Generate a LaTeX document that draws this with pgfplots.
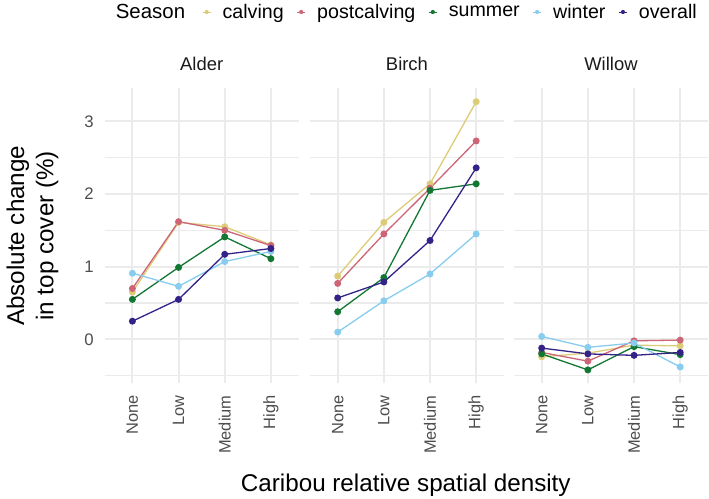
\documentclass[border=0pt]{standalone}
\usepackage{pgfplots}
\pgfplotsset{compat=1.18}
\usepackage{pgfplotstable}
\usepackage{fontspec}
\setmainfont{Liberation Sans}
\definecolor{cCalv}{HTML}{DDCC77}
\definecolor{cPost}{HTML}{CC6677}
\definecolor{cSumm}{HTML}{117733}
\definecolor{cWint}{HTML}{88CCEE}
\definecolor{cOver}{HTML}{332288}
\definecolor{grid92}{HTML}{EBEBEB}
\definecolor{grey30}{HTML}{4D4D4D}
\definecolor{grey10}{HTML}{1A1A1A}

\pgfplotstableread{
x calving postcalving summer winter overall
0 0.65 0.70 0.55 0.91 0.25
1 1.61 1.62 0.99 0.73 0.55
2 1.55 1.50 1.41 1.07 1.17
3 1.30 1.29 1.11 1.21 1.25
}\alder
\pgfplotstableread{
x calving postcalving summer winter overall
0 0.87 0.77 0.38 0.10 0.57
1 1.61 1.45 0.85 0.53 0.79
2 2.14 2.08 2.05 0.90 1.36
3 3.27 2.73 2.14 1.45 2.36
}\birch
\pgfplotstableread{
x calving postcalving summer winter overall
0 -0.24 -0.18 -0.20 0.04 -0.12
1 -0.19 -0.30 -0.42 -0.11 -0.20
2 -0.08 -0.02 -0.10 -0.05 -0.22
3 -0.09 -0.01 -0.21 -0.38 -0.18
}\willow

\pgfplotsset{
  panel/.style={
    scale only axis, width=193.9bp, height=295bp,
    anchor=south west,
    xmin=-0.6, xmax=3.6, ymin=-0.6045, ymax=3.4545,
    axis line style={draw=none}, tick style={draw=none},
    major tick length=0pt,
    xtick={0,1,2,3}, xticklabels={None,Low,Medium,High},
    ytick={0,1,2,3}, minor ytick={-0.5,0.5,1.5,2.5},
    grid=both,
    major grid style={color=grid92, line width=2bp},
    minor grid style={color=grid92, line width=1.1bp},
    /pgf/number format/assume math mode=true,
    xticklabel style={rotate=90, anchor=east, inner sep=0pt,
      font=\fontsize{16.5}{19}\selectfont, text=grey30},
    xticklabel shift=12bp,
    yticklabel style={anchor=east, inner sep=0pt,
      font=\fontsize{16.8}{19}\selectfont, text=grey30},
    yticklabel shift=10.7bp,
    title style={at={(0.5,1)}, anchor=base, yshift=12.3bp, inner sep=0pt,
      font=\fontsize{18.5}{21}\selectfont, text=grey10},
    every axis plot/.append style={line width=1.3bp, mark=*, mark size=2.8bp},
  },
}

\begin{document}
\begin{tikzpicture}
\path[use as bounding box] (0,0) rectangle (709bp,499bp);

\begin{axis}[panel, at={(104.7bp,115.7bp)}, title={Alder},
  legend columns=-1,
  legend style={at={(axis description cs:0.5018,1.2586)}, anchor=west,
    draw=none, fill=none, inner sep=0pt, nodes={inner sep=0pt},
    font=\fontsize{19.7}{22}\selectfont,
    /tikz/every even column/.append style={column sep=13bp}},
  legend image code/.code={
    \path[draw=none,fill=none] (0bp,-2bp) rectangle (20bp,2bp);
    \draw[line width=0.9bp,mark=none] (0bp,0bp) -- (8bp,0bp);
    \fill[draw=none] (4bp,0bp) circle (2.1bp);
  },
]
\addplot[cCalv] table[x=x,y=calving] {\alder};
\addplot[cPost] table[x=x,y=postcalving] {\alder};
\addplot[cSumm] table[x=x,y=summer] {\alder};
\addplot[cWint] table[x=x,y=winter] {\alder};
\addplot[cOver] table[x=x,y=overall] {\alder};
\legend{calving,postcalving,summer,winter,overall}
\end{axis}

\begin{axis}[panel, at={(310bp,115.7bp)}, title={Birch}, yticklabels={}]
\addplot[cCalv] table[x=x,y=calving] {\birch};
\addplot[cPost] table[x=x,y=postcalving] {\birch};
\addplot[cSumm] table[x=x,y=summer] {\birch};
\addplot[cWint] table[x=x,y=winter] {\birch};
\addplot[cOver] table[x=x,y=overall] {\birch};
\end{axis}

\begin{axis}[panel, at={(514bp,115.7bp)}, title={Willow}, yticklabels={}]
\addplot[cCalv] table[x=x,y=calving] {\willow};
\addplot[cPost] table[x=x,y=postcalving] {\willow};
\addplot[cSumm] table[x=x,y=summer] {\willow};
\addplot[cWint] table[x=x,y=winter] {\willow};
\addplot[cOver] table[x=x,y=overall] {\willow};
\end{axis}

\node[anchor=base, inner sep=0pt, font=\fontsize{20.5}{22}\selectfont] at (150.5bp,480.7bp) {Season};
\node[anchor=base, inner sep=0pt, font=\fontsize{24.3}{28}\selectfont] at (405.8bp,7.3bp) {Caribou relative spatial density};
\node[rotate=90, anchor=base, inner sep=0pt, font=\fontsize{24.3}{28}\selectfont] at (24bp,263.2bp) {Absolute change};
\node[rotate=90, anchor=base, inner sep=0pt, font=\fontsize{24.3}{28}\selectfont] at (53.3bp,263.2bp) {in top cover (\%)};
\end{tikzpicture}
\end{document}
